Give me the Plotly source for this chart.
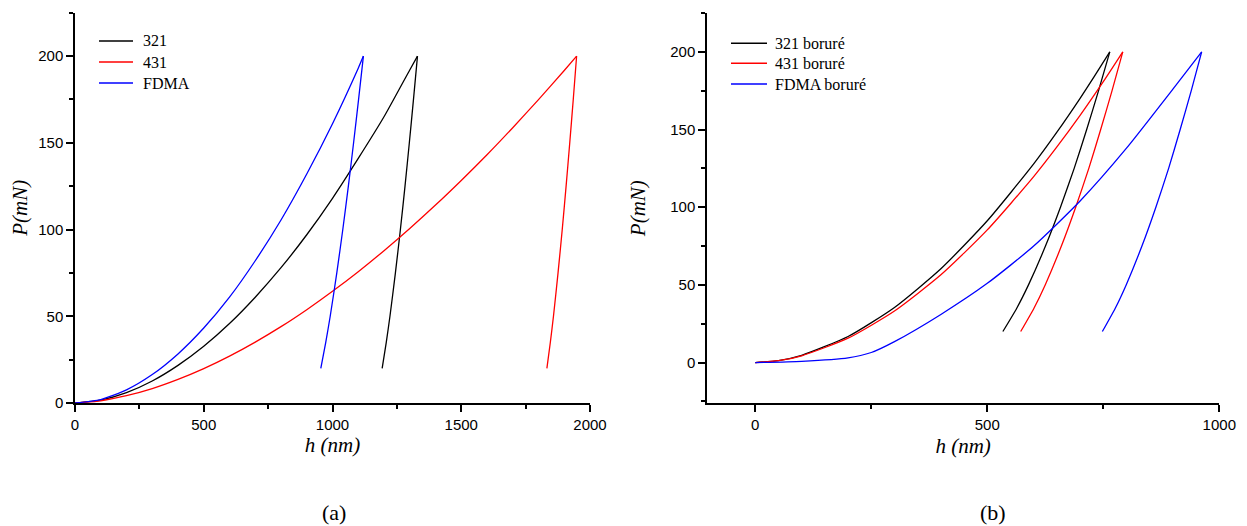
import plotly.graph_objects as go

# ---------- Panel (a) data: loading / unloading branches ----------
load_h_321 = [0, 100, 200, 300, 400, 500, 600, 700, 800, 900, 1000, 1100, 1200, 1300, 1330]
load_p_321 = [0, 1.7, 6.0, 12.7, 21.7, 32.7, 45.8, 61, 78, 97, 118, 141, 165, 192, 200]
unload_h_321 = [1330, 1314.5, 1298.4, 1281.6, 1263.7, 1244.3, 1223.1, 1208.8, 1192.8]
unload_p_321 = [200, 175, 150, 125, 100, 75, 50, 35, 20]

load_h_431 = [0, 100, 200, 300, 400, 500, 600, 700, 800, 900, 1000, 1100, 1200, 1300, 1400,
              1500, 1600, 1700, 1800, 1900, 1948]
load_p_431 = [0, 1.3, 4.2, 8.3, 13.6, 19.8, 27.0, 35.1, 44.0, 53.8, 64.4, 75.7, 87.8, 100.6, 114.1,
              128.3, 143.1, 158.7, 174.9, 191.7, 200]
unload_h_431 = [1948, 1935, 1921.4, 1907.2, 1892.2, 1875.9, 1858.1, 1846, 1832.6]
unload_p_431 = [200, 175, 150, 125, 100, 75, 50, 35, 20]

load_h_fdma = [0, 100, 200, 300, 400, 500, 600, 700, 800, 900, 1000, 1100, 1120]
load_p_fdma = [0, 2.0, 7.6, 16.4, 28.3, 43.2, 61, 82, 105.5, 132, 161, 193, 200]
unload_h_fdma = [1120, 1101.3, 1081.9, 1061.6, 1040, 1016.7, 991.1, 973.8, 954.6]
unload_p_fdma = [200, 175, 150, 125, 100, 75, 50, 35, 20]

# ---------- Panel (b) data ----------
load_h_321b = [0, 50, 100, 200, 300, 400, 500, 600, 650, 700, 730, 764]
load_p_321b = [0, 1.3, 4.7, 16.8, 35.5, 60.4, 91.3, 127.9, 148.3, 170.1, 183.9, 200]
unload_h_321b = [764, 739.8, 714.2, 687.3, 657.7, 625.4, 588.8, 563.5, 533.6]
unload_p_321b = [200, 175, 150, 125, 100, 75, 50, 35, 20]

load_h_431b = [0, 50, 100, 200, 300, 400, 500, 600, 650, 700, 750, 792]
load_p_431b = [0, 1.2, 4.4, 15.7, 33.2, 56.5, 85.4, 119.7, 138.8, 159.1, 180.8, 200]
unload_h_431b = [792, 768.9, 744.4, 718.8, 690.5, 659.7, 624.8, 600.6, 572]
unload_p_431b = [200, 175, 150, 125, 100, 75, 50, 35, 20]

load_h_fdmab = [0, 100, 200, 250, 300, 400, 500, 600, 700, 800, 900, 962]
load_p_fdmab = [0, 0.8, 3, 6.5, 13.5, 31, 51, 75, 104, 138, 176, 200]
unload_h_fdmab = [962, 939.6, 915.7, 890.8, 863.3, 833.3, 799.3, 775.8, 748]
unload_p_fdmab = [200, 175, 150, 125, 100, 75, 50, 35, 20]

x_ticks_a = [0, 500, 1000, 1500, 2000]
x_ticks_b = [0, 500, 1000]
y_ticks = [0, 50, 100, 150, 200]

series = [
    ("321", "black", load_h_321, load_p_321, unload_h_321, unload_p_321, "x", "y"),
    ("431", "red", load_h_431, load_p_431, unload_h_431, unload_p_431, "x", "y"),
    ("FDMA", "blue", load_h_fdma, load_p_fdma, unload_h_fdma, unload_p_fdma, "x", "y"),
    ("321 boruré", "black", load_h_321b, load_p_321b, unload_h_321b, unload_p_321b, "x2", "y2"),
    ("431 boruré", "red", load_h_431b, load_p_431b, unload_h_431b, unload_p_431b, "x2", "y2"),
    ("FDMA boruré", "blue", load_h_fdmab, load_p_fdmab, unload_h_fdmab, unload_p_fdmab, "x2", "y2"),
]

# page has an 8 px body margin; figure sized to fit the window exactly
OFF = 8
W, H = 1247 - OFF, 526 - OFF


def PX(x):
    return (x - OFF) / W


def PY(y):
    return 1 - (y - OFF) / H


fig = go.Figure()
line_w = 1.3
for name, col, lh, lp, uh, up, xa, ya in series:
    fig.add_trace(go.Scatter(x=lh, y=lp, mode="lines", name=name, showlegend=False,
                             line=dict(color=col, width=line_w, shape="spline", smoothing=0.6),
                             xaxis=xa, yaxis=ya))
    fig.add_trace(go.Scatter(x=uh, y=up, mode="lines", name=name, showlegend=False,
                             line=dict(color=col, width=line_w, shape="spline", smoothing=0.6),
                             xaxis=xa, yaxis=ya))

SERIF = "Liberation Serif, Times New Roman, serif"
tickfont = dict(family="Liberation Sans, Arial", size=15, color="black")
titlefont = dict(family=SERIF, size=21, color="black", style="italic")
legfont = dict(family=SERIF, size=16, color="black")


def ax(**kw):
    d = dict(showline=True, linecolor="black", linewidth=1.5, ticks="outside",
             ticklen=7, tickwidth=1.5, tickcolor="black", showgrid=False, zeroline=False,
             tickfont=tickfont, mirror=False, automargin=False,
             minor=dict(ticks="outside", ticklen=4, tickwidth=1.5, tickcolor="black"))
    d.update(kw)
    return d


# manual legends (line sample + label) in paper coordinates
shapes = []
annotations = []
legends = [
    (["321", "431", "FDMA"], ["black", "red", "blue"], 99, 133, 141, [41, 62, 83]),
    (["321 boruré", "431 boruré", "FDMA boruré"], ["black", "red", "blue"], 731, 767, 773, [43.3, 63.3, 84]),
]
for names, cols, x0, x1, xt, rows in legends:
    for nm, c, yy in zip(names, cols, rows):
        shapes.append(dict(type="line", xref="paper", yref="paper", x0=PX(x0), x1=PX(x1),
                           y0=PY(yy), y1=PY(yy), line=dict(color=c, width=1.5)))
        annotations.append(dict(text=nm, x=PX(xt), y=PY(yy), xref="paper", yref="paper",
                                xanchor="left", yanchor="middle", showarrow=False, font=legfont))

annotations += [
    dict(text="(a)", x=PX(334), y=PY(512), xref="paper", yref="paper", showarrow=False,
         xanchor="center", yanchor="middle", font=dict(family=SERIF, size=22, color="black")),
    dict(text="(b)", x=PX(993), y=PY(512), xref="paper", yref="paper", showarrow=False,
         xanchor="center", yanchor="middle", font=dict(family=SERIF, size=22, color="black")),
]

fig.update_layout(
    width=W, height=H,
    margin=dict(l=0, r=0, t=0, b=0),
    paper_bgcolor="white", plot_bgcolor="white",
    xaxis=ax(domain=[PX(75), PX(590)], range=[0, 2000], tickvals=x_ticks_a,
             minor_dtick=250, anchor="y",
             title=dict(text="h (nm)", font=titlefont, standoff=6)),
    yaxis=ax(domain=[PY(403), PY(12.7)], range=[0, 225], tickvals=y_ticks,
             minor_dtick=25, anchor="x",
             title=dict(text="P(mN)", font=titlefont, standoff=12)),
    xaxis2=ax(domain=[PX(707), PX(1219.3)], range=[-104, 1000], tickvals=x_ticks_b,
              minor_dtick=250, anchor="y2",
              title=dict(text="h (nm)", font=titlefont, standoff=6)),
    yaxis2=ax(domain=[PY(403.3), PY(13)], range=[-26.2, 225], tickvals=y_ticks,
              minor_dtick=25, anchor="x2",
              title=dict(text="P(mN)", font=titlefont, standoff=19)),
    showlegend=False,
    shapes=shapes,
    annotations=annotations,
)

fig.write_html("out.html")
